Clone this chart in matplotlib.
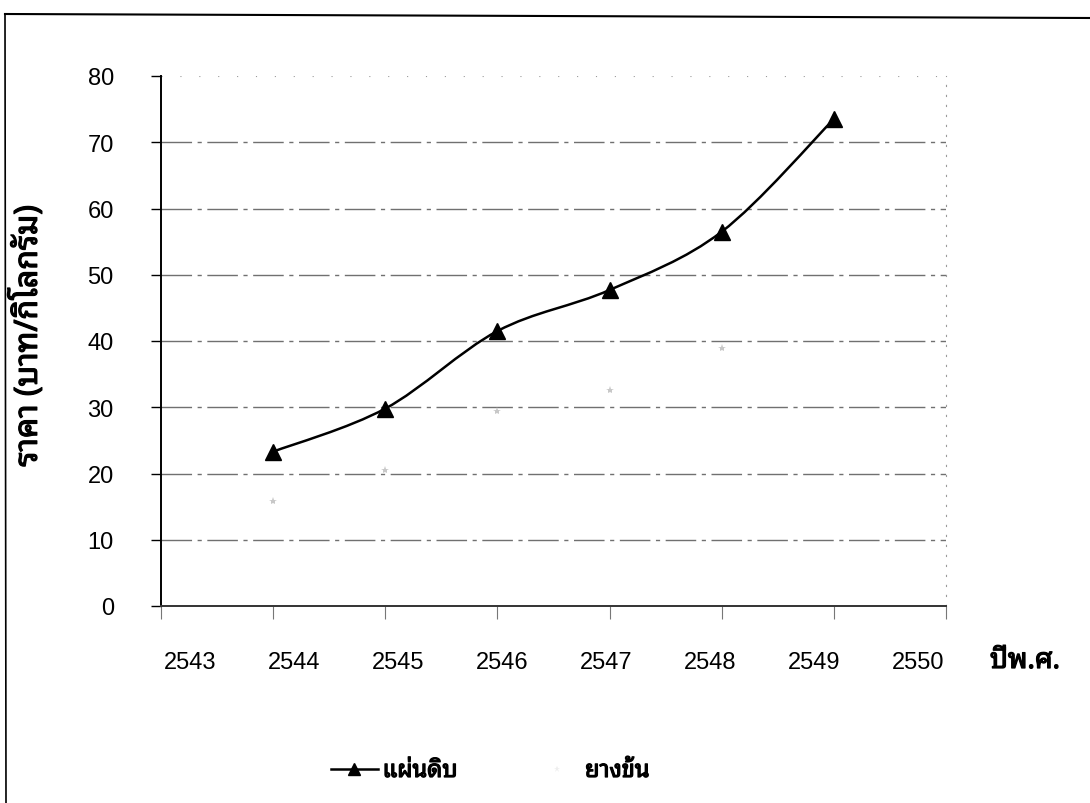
import matplotlib
matplotlib.use("Agg")
import matplotlib.pyplot as plt
from matplotlib import font_manager
from matplotlib.path import Path
from matplotlib.patches import PathPatch
from matplotlib.lines import Line2D
import matplotlib.patheffects as pe
import numpy as np

# ---- data ----
years = [2544, 2545, 2546, 2547, 2548, 2549]
sheet_rubber = [23.3, 29.8, 41.5, 47.7, 56.5, 73.5]      # แผ่นดิบ
latex_rubber = [15.8, 20.6, 29.4, 32.6, 38.9, np.nan]    # ยางข้น (faint in scan)
xticks = [2543, 2544, 2545, 2546, 2547, 2548, 2549, 2550]
yticks = [0, 10, 20, 30, 40, 50, 60, 70, 80]
series_names = ["แผ่นดิบ", "ยางข้น"]
ylabel = "ราคา (บาท/กิโลกรัม)"
xlabel = "ปีพ.ศ."

# ---- find a font with Thai glyphs ----
thai_font = None
thai_has_bold = False
try:
    from fontTools.ttLib import TTFont
    prefs = ["Noto Sans Thai", "Noto Sans Thai UI", "Loma", "Garuda", "Tlwg", "Norasi", "Kinnari"]
    cands = {}
    for f in font_manager.fontManager.ttflist:
        try:
            tt = TTFont(f.fname, fontNumber=0, lazy=True)
            cmap = tt.getBestCmap()
            if cmap and 0x0E01 in cmap and 0x0E1A in cmap:
                cands.setdefault(f.name, set()).add(f.weight)
        except Exception:
            pass
    if cands:
        names = list(cands)
        thai_font = names[0]
        done = False
        for p in prefs:
            for c in names:
                if c.startswith(p):
                    thai_font = c
                    done = True
                    break
            if done:
                break
        ws = cands[thai_font]
        thai_has_bold = any((w == "bold") or (isinstance(w, int) and w >= 600) for w in ws)
except Exception:
    thai_font = None

num_font = "Liberation Sans"
thai_fam = [thai_font, "DejaVu Sans"] if thai_font else ["DejaVu Sans"]
bold_fx = [] if thai_has_bold else [pe.withStroke(linewidth=0.9, foreground="black")]

plt.rcParams["font.family"] = [num_font, "DejaVu Sans"]

W, H = 1090, 804
fig = plt.figure(figsize=(W / 100, H / 100), dpi=100)
fig.patch.set_facecolor("white")

ax = fig.add_axes([161 / W, 1 - 607 / H, (946 - 161) / W, (607 - 77) / H])
ax.set_xlim(2543, 2550)
ax.set_ylim(0, 80)

# grid lines (broken grey, like scan)
for yv in yticks[1:-1]:
    ax.axhline(yv, color="#707070", lw=1.0, ls=(0, (22, 4, 3, 4)), zorder=1)
ax.axhline(80, color="#9a9a9a", lw=0.8, ls=(0, (1, 16)), zorder=1)

# spines
ax.spines["top"].set_visible(False)
ax.spines["right"].set_color("#9a9a9a")
ax.spines["right"].set_linestyle((0, (1, 8)))
ax.spines["right"].set_linewidth(0.8)
ax.spines["left"].set_linewidth(1.4)
ax.spines["bottom"].set_linewidth(1.4)
ax.spines["bottom"].set_color("#333333")

ax.set_xticks(xticks)
ax.set_xticklabels([])
ax.set_yticks(yticks)
ax.set_yticklabels([str(v) for v in yticks])
ax.tick_params(axis="x", direction="out", length=9, width=0.8, color="#777777")
ax.tick_params(axis="y", direction="out", length=7, width=1.0,
               pad=27, labelsize=17)

# year labels: evenly spaced row below the axis (as in the scanned chart)
lab_start, lab_step = 0.037, 0.1325
for i, yr in enumerate(xticks):
    ax.text(lab_start + i * lab_step, -0.105, str(yr), transform=ax.transAxes,
            ha="center", va="center", fontsize=17)

# smooth curve (Bezier through data points, Excel-like smoothing)
xs = np.array(years, dtype=float)
ys = np.array(sheet_rubber, dtype=float)
verts = [(xs[0], ys[0])]
codes = [Path.MOVETO]
n = len(xs)
t = 1.0 / 6.0
for i in range(n - 1):
    p0 = (xs[i - 1], ys[i - 1]) if i > 0 else (xs[i], ys[i])
    p1 = (xs[i], ys[i])
    p2 = (xs[i + 1], ys[i + 1])
    p3 = (xs[i + 2], ys[i + 2]) if i + 2 < n else (xs[i + 1], ys[i + 1])
    c1 = (p1[0] + (p2[0] - p0[0]) * t, p1[1] + (p2[1] - p0[1]) * t)
    c2 = (p2[0] - (p3[0] - p1[0]) * t, p2[1] - (p3[1] - p1[1]) * t)
    verts += [c1, c2, p2]
    codes += [Path.CURVE4] * 3
ax.add_patch(PathPatch(Path(verts, codes), facecolor="none", edgecolor="black",
                       lw=1.8, zorder=3))
ax.plot(years, sheet_rubber, ls="none", marker="^", ms=11, color="black", zorder=4)

# faint second series
ax.plot(years, latex_rubber, ls="none", marker="*", ms=6, color="#c8c8c8",
        markeredgewidth=0, zorder=2)

ylab = ax.set_ylabel(ylabel, fontsize=23, fontweight="bold", family=thai_fam)
ylab.set_path_effects(bold_fx)
ax.yaxis.set_label_coords(-0.148, 0.51)

xl = fig.text(990 / W, 1 - 662 / H, xlabel, fontsize=20, fontweight="bold",
              family=thai_fam, ha="left", va="center")
xl.set_path_effects(bold_fx)

# legend
h1 = Line2D([], [], color="black", lw=1.8, marker="^", ms=9)
h2 = Line2D([], [], color="white", lw=0, marker="*", ms=5, markerfacecolor="#eeeeee",
            markeredgewidth=0)
leg = fig.legend([h1, h2], series_names, loc="center", bbox_to_anchor=(490 / W, 1 - 772 / H),
                 ncol=2, frameon=False, prop={"family": thai_fam, "size": 17, "weight": "bold"},
                 handlelength=2.0, handletextpad=0.2, columnspacing=3.2)
for txt in leg.get_texts():
    txt.set_path_effects(bold_fx)

# outer frame of the scanned page
fig.add_artist(Line2D([5 / W, 1.0], [1 - 15 / H, 1 - 19 / H], color="black", lw=1.5,
                      transform=fig.transFigure))
fig.add_artist(Line2D([5 / W, 6 / W], [1 - 15 / H, 0.0], color="black", lw=1.2,
                      transform=fig.transFigure))

fig.savefig("out.png", dpi=100, facecolor="white")
